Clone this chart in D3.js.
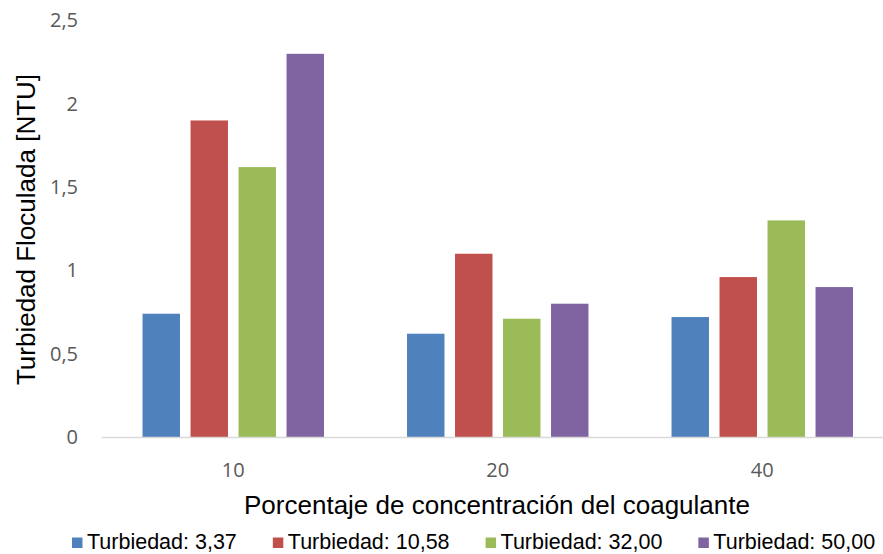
<!DOCTYPE html>
<html>
<head>
<meta charset="utf-8">
<script src="https://cdn.jsdelivr.net/npm/d3@7"></script>
<style>
  body { margin: 0; background: #fff; }
  svg { display: block; }
</style>
</head>
<body>
<svg id="chart" width="883" height="554"></svg>
<script>
// data
var categories = ["10", "20", "40"];
var seriesNames = ["Turbiedad: 3,37", "Turbiedad: 10,58", "Turbiedad: 32,00", "Turbiedad: 50,00"];
var seriesColors = ["#4f81bd", "#c0504d", "#9bbb59", "#8064a2"];
var turb337 = [0.74, 0.62, 0.72];
var turb1058 = [1.90, 1.10, 0.96];
var turb3200 = [1.62, 0.71, 1.30];
var turb5000 = [2.30, 0.80, 0.90];
var yTicks = [0, 0.5, 1, 1.5, 2, 2.5];

var seriesValues = [turb337, turb1058, turb3200, turb5000];

var svg = d3.select("#chart");
var sans = "Arial, 'Liberation Sans', sans-serif";
var tickFont = "'Open Sans', 'Noto Sans', sans-serif";

var x0 = d3.scaleBand()
    .domain(categories)
    .range([101, 894.5])
    .paddingInner(0.314)
    .paddingOuter(0.157);

var x1 = d3.scaleBand()
    .domain(seriesNames)
    .range([0, x0.bandwidth()])
    .paddingInner(0.22)
    .paddingOuter(0);

var y = d3.scaleLinear()
    .domain([0, 2.5])
    .range([437, 20.5]);

// bars
var groups = svg.append("g")
    .selectAll("g")
    .data(categories)
    .enter().append("g")
    .attr("transform", function(d) { return "translate(" + x0(d) + ",0)"; });

groups.selectAll("rect")
    .data(function(d, i) {
        return seriesNames.map(function(s, j) {
            return { name: s, value: seriesValues[j][i], color: seriesColors[j] };
        });
    })
    .enter().append("rect")
    .attr("x", function(d) { return x1(d.name); })
    .attr("width", x1.bandwidth())
    .attr("y", function(d) { return y(d.value); })
    .attr("height", function(d) { return y(0) - y(d.value); })
    .attr("fill", function(d) { return d.color; });

// y axis (labels only)
var yAxis = svg.append("g")
    .attr("transform", "translate(78,0)")
    .call(d3.axisLeft(y).tickValues(yTicks).tickSize(0).tickPadding(0)
        .tickFormat(function(d) { return String(d).replace(".", ","); }));
yAxis.select(".domain").remove();
yAxis.selectAll("text")
    .attr("font-family", tickFont)
    .attr("font-size", "20px")
    .attr("fill", "#595959");

// x axis
var xAxis = svg.append("g")
    .attr("transform", "translate(0," + y(0) + ")")
    .call(d3.axisBottom(d3.scaleBand().domain(categories).range([101, 894.5])).tickSize(0).tickPadding(0));
xAxis.select(".domain")
    .attr("stroke", "#d9d9d9")
    .attr("stroke-width", 1.5);
xAxis.selectAll("text")
    .attr("dy", null)
    .attr("y", 40)
    .attr("font-family", tickFont)
    .attr("font-size", "20px")
    .attr("fill", "#595959");

// axis titles
svg.append("text")
    .attr("x", 497)
    .attr("y", 514)
    .attr("text-anchor", "middle")
    .attr("font-family", sans)
    .attr("font-size", "26px")
    .attr("fill", "#000")
    .text("Porcentaje de concentración del coagulante");

svg.append("text")
    .attr("transform", "translate(35,229.5) rotate(-90)")
    .attr("text-anchor", "middle")
    .attr("font-family", sans)
    .attr("font-size", "26px")
    .attr("fill", "#000")
    .text("Turbiedad Floculada [NTU]");

// legend
var legend = svg.append("g");
var lx = 72;
seriesNames.forEach(function(name, i) {
    var item = legend.append("g").attr("transform", "translate(" + lx + ",0)");
    item.append("rect")
        .attr("x", 0)
        .attr("y", 537.5)
        .attr("width", 10.5)
        .attr("height", 10.5)
        .attr("fill", seriesColors[i]);
    var t = item.append("text")
        .attr("x", 15)
        .attr("y", 549)
        .attr("font-family", sans)
        .attr("font-size", "21.5px")
        .attr("fill", "#000")
        .text(name);
    lx += 15 + t.node().getComputedTextLength() + 36;
});
</script>
</body>
</html>
